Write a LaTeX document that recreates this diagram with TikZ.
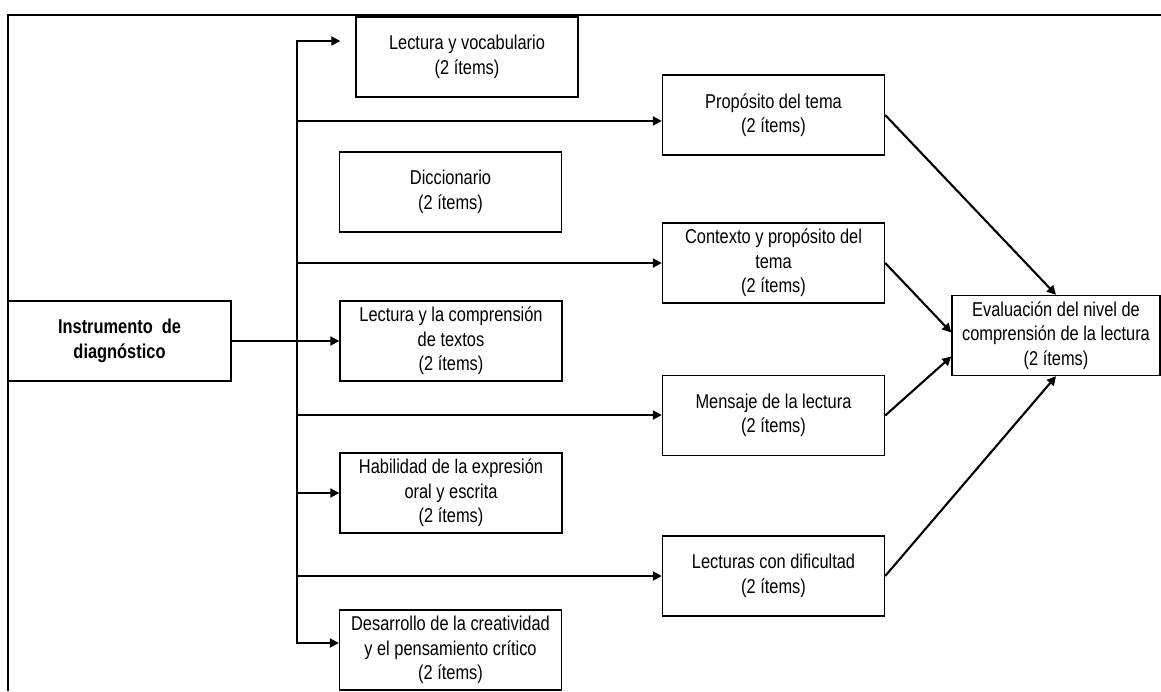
\documentclass[tikz,border=0pt]{standalone}
\usepackage{fontspec}
\setmainfont[FakeStretch=0.82]{Liberation Sans}
\usetikzlibrary{arrows.meta}
\tikzset{
  itembox/.style={draw, line width=1.4pt, minimum width=222pt, minimum height=80pt,
    inner sep=1pt, align=center, font=\fontsize{20}{24.5}\selectfont},
  link/.style={line width=2.1pt},
  arr/.style={line width=2.1pt, -{Triangle[length=9pt,width=9pt]}},
}
\newcommand{\areabox}[4]{\node[itembox] (#1) at ( #2 , #3 ) {#4};}

\begin{document}
\begin{tikzpicture}[x=1pt,y=-1pt]
        \useasboundingbox (0,0) rectangle (1161,691);
        % frame
        \draw[line width=2.6pt] (8,691) -- (8,15) -- (1161,15);
        % source
        \node[itembox, minimum width=223pt, font=\fontsize{20}{24.5}\selectfont\bfseries] (inst) at (119.5,341) {Instrumento\hspace{0.45em}de\\diagnóstico};
        % left column
        \areabox{voc}{467}{57}{Lectura y vocabulario\\(2 ítems)}
        \areabox{dic}{450.5}{192}{Diccionario\\(2 ítems)}
        \areabox{comp}{451}{341}{Lectura y la comprensión\\de textos\\(2 ítems)}
        \areabox{hab}{451}{493}{Habilidad de la expresión\\oral y escrita\\(2 ítems)}
        \areabox{cre}{450.5}{650}{Desarrollo de la creatividad\\y el pensamiento crítico\\(2 ítems)}
        % right column
        \areabox{prop}{773.5}{115}{Propósito del tema\\(2 ítems)}
        \areabox{ctx}{773.5}{263}{Contexto y propósito del\\tema\\(2 ítems)}
        \areabox{msg}{773.5}{415.5}{Mensaje de la lectura\\(2 ítems)}
        \areabox{dif}{773.5}{576}{Lecturas con dificultad\\(2 ítems)}
        % target
        \node[itembox, minimum width=208pt] (eval) at (1056,335.5) {Evaluación del nivel de\\comprensión de la lectura\\(2 ítems)};
        % trunk
        \coordinate (tA) at (297,41);
        \coordinate (tB) at (297,121);
        \coordinate (tC) at (297,263);
        \coordinate (tD) at (297,415);
        \coordinate (tE) at (297,493);
        \coordinate (tF) at (297,576);
        \coordinate (tG) at (297,643);
        \draw[link, line cap=rect] (tA) -- (tG);
        % branches
        \draw[arr] (tA) -- ([xshift=-15pt]tA -| voc.west);
        \draw[arr] (tB) -- (tB -| prop.west);
        \draw[arr] (tC) -- (tC -| ctx.west);
        \draw[arr] (tD) -- (tD -| msg.west);
        \draw[arr] (tE) -- (hab.west);
        \draw[arr] (tF) -- (tF -| dif.west);
        \draw[arr] (tG) -- (tG -| cre.west);
        \draw[arr] (inst.east) -- (comp.west);
        % into the evaluation
        \draw[arr] (prop.east) -- (eval.north);
        \draw[arr] (ctx.east) -- ([yshift=3pt]eval.west);
        \draw[arr] (msg.east) -- ([yshift=-21pt]eval.west);
        \draw[arr] (dif.east) -- (eval.south);
\end{tikzpicture}
\end{document}
